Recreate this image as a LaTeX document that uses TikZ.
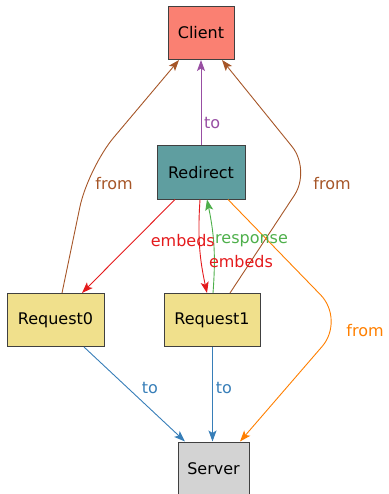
\documentclass[tikz,border=0pt]{standalone}
\usepackage{fontspec}
\setmainfont{DejaVu Sans}
\definecolor{rdclient}{HTML}{FA8072}
\definecolor{rdredir}{HTML}{5F9EA0}
\definecolor{rdreq}{HTML}{F0E08C}
\definecolor{rdserver}{HTML}{D3D3D3}
\definecolor{rdpurple}{HTML}{984EA3}
\definecolor{rdbrown}{HTML}{A65628}
\definecolor{rdred}{HTML}{E41A1C}
\definecolor{rdgreen}{HTML}{4DAF4A}
\definecolor{rdorange}{HTML}{FF7F00}
\definecolor{rdblue}{HTML}{377EB8}
\usetikzlibrary{arrows.meta}

\begin{document}
\begin{tikzpicture}[x=1pt,y=-1pt,
  box/.style={draw=black!75,line width=1pt,minimum height=53pt,inner sep=0pt,
    font=\fontsize{16}{19}\selectfont},
  lbl/.style={inner sep=0pt,font=\fontsize{16}{19}\selectfont},
  link/.style={-{Stealth[length=11pt,width=8pt,inset=2.5pt]},line width=0.9pt}]
  \useasboundingbox (0,0) rectangle (388,494);
  % boxes
  \node[box,fill=rdclient,minimum width=66pt] (client) at (201,33) {Client};
  \node[box,fill=rdredir,minimum width=88pt] (redirect) at (201,172.5) {Redirect};
  \node[box,fill=rdreq,minimum width=97pt] (req0) at (55.5,320) {Request0};
  \node[box,fill=rdreq,minimum width=96pt] (req1) at (212,320) {Request1};
  \node[box,fill=rdserver,minimum width=71pt] (server) at (213.5,468.5) {Server};
  % bends of the long edges
  \coordinate (bendL) at (88,168);
  \coordinate (bendR) at (311,170);
  \coordinate (bendS) at (345,320);
  % edges
  \draw[link,rdpurple] (redirect.north) -- (client.south);
  \draw[link,rdbrown,rounded corners=40pt] ([xshift=6.5pt]req0.north) -- (bendL) -- ([xshift=-22pt]client.south);
  \draw[link,rdbrown,rounded corners=30pt] ([xshift=18pt]req1.north) -- (bendR) -- ([xshift=21pt]client.south);
  \draw[link,rdred] ([xshift=-26pt]redirect.south) -- ([xshift=26.5pt]req0.north);
  \draw[link,rdred] ([xshift=-1pt]redirect.south) to[bend right=8] ([xshift=-5pt]req1.north);
  \draw[link,rdgreen] ([xshift=1pt]req1.north) to[bend right=8] ([xshift=6pt]redirect.south);
  \draw[link,rdorange,rounded corners=35pt] ([xshift=27pt]redirect.south) -- (bendS) -- ([xshift=26.5pt]server.north);
  \draw[link,rdblue] ([xshift=28.5pt]req0.south) -- ([xshift=-28.5pt]server.north);
  \draw[link,rdblue] ([xshift=0.5pt]req1.south) -- ([xshift=-1pt]server.north);
  % labels
  \node[lbl,rdpurple,anchor=west] (lto) at (204,123) {to};
  \node[lbl,rdbrown] (lfromL) at (114,184) {from};
  \node[lbl,rdbrown] (lfromR) at (332,184) {from};
  \node[lbl,rdred,anchor=east] (lemb0) at (215,241) {embeds};
  \node[lbl,rdgreen,anchor=west] (lresp) at (lemb0.east) {response};
  \node[lbl,rdred] (lemb1) at (241,262) {embeds};
  \node[lbl,rdorange] (lfromS) at (365,331) {from};
  \node[lbl,rdblue] (lto0) at (150,388) {to};
  \node[lbl,rdblue] (lto1) at (224,388) {to};
\end{tikzpicture}
\end{document}
